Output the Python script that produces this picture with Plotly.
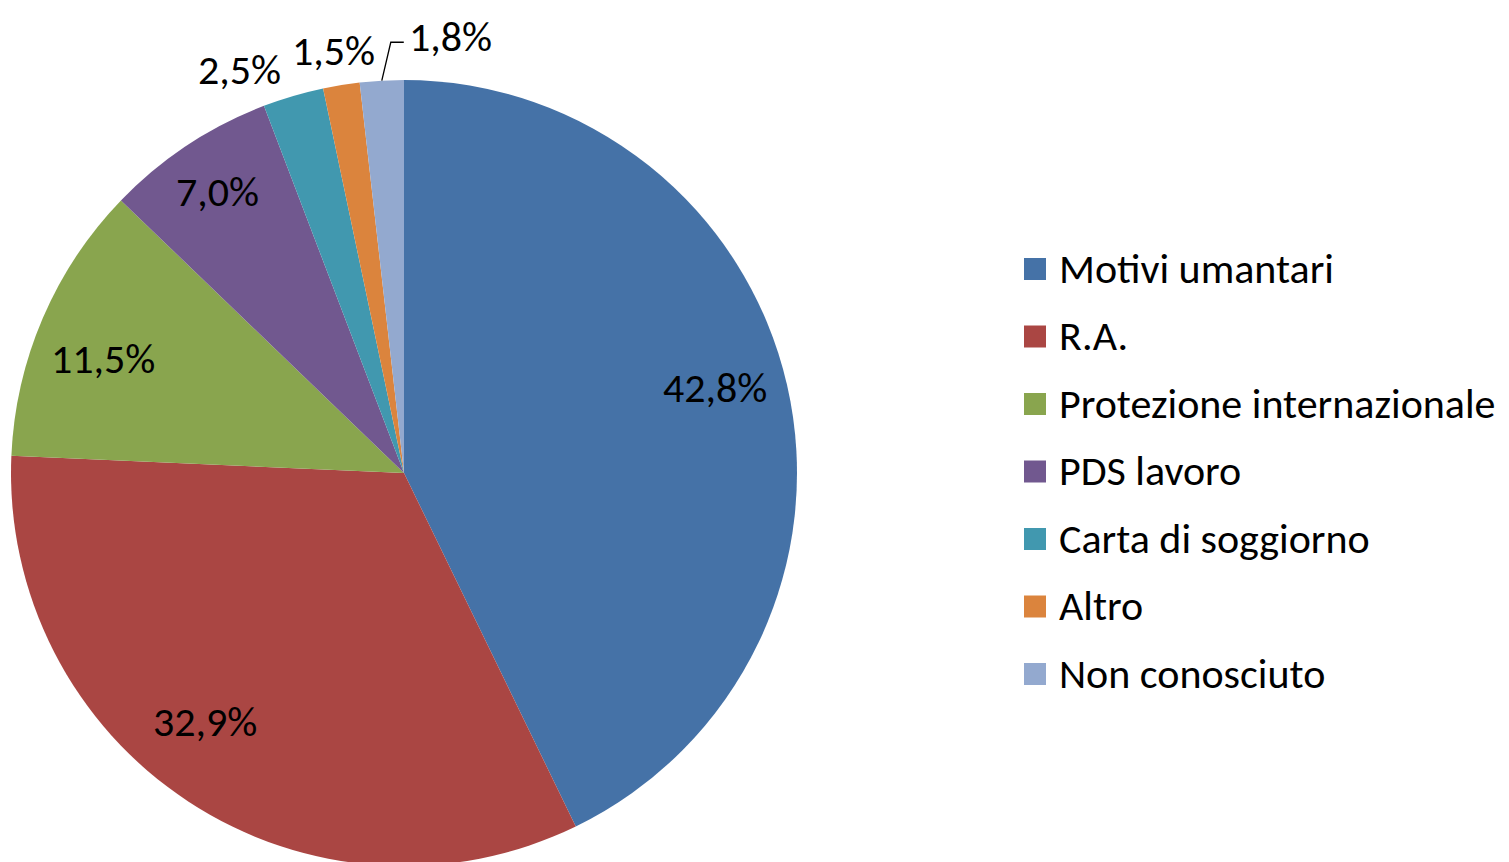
import math
import plotly.graph_objects as go

categories = ["Motivi umantari", "R.A.", "Protezione internazionale", "PDS lavoro",
              "Carta di soggiorno", "Altro", "Non conosciuto"]
values = [42.8, 32.9, 11.5, 7.0, 2.5, 1.5, 1.8]
colors = ["#4572A7", "#AA4643", "#89A54E", "#71588F", "#4198AF", "#DB843D", "#93A9CF"]

# label placement style (radius factor, angular offset in degrees) per slice
label_rfac = [0.82, 0.81, 0.82, 0.86, 1.11, 1.09, None]
label_dang = [-2.5, 5.5, -2.5, 0.0, -5.8, -0.3, None]

FONT = "Calibri, Carlito, Lato, sans-serif"
FS = 42
W, H = 1509, 862
OFF = 8  # page body margin of the html page

# pie geometry in page pixels
CX, CY, R = 404, 473, 393

def px(x, y):
    return (x - OFF) / W, 1 - (y - OFF) / H

dx0, dy0 = px(CX - R, CY + R)
dx1, dy1 = px(CX + R, CY - R)

fig = go.Figure(go.Pie(
    labels=categories,
    values=values,
    sort=False,
    direction="clockwise",
    rotation=0,
    marker=dict(colors=colors, line=dict(width=0)),
    textinfo="none",
    domain=dict(x=[dx0, dx1], y=[dy0, dy1]),
    showlegend=False,
    hoverinfo="label+percent",
))

annotations = []
shapes = []
total = sum(values)
cum = 0.0
for i, v in enumerate(values):
    mid = (cum + v / 2) / total * 360.0
    cum += v
    txt = f"{v:.1f}%".replace(".", ",")
    if label_rfac[i] is not None:
        a = math.radians(mid + label_dang[i])
        x = CX + label_rfac[i] * R * math.sin(a)
        y = CY - label_rfac[i] * R * math.cos(a)
        xx, yy = px(x, y)
        annotations.append(dict(x=xx, y=yy, xref="paper", yref="paper", text=txt,
                                showarrow=False, xanchor="center", yanchor="middle",
                                font=dict(family=FONT, size=FS, color="black")))
    else:
        a = math.radians(mid)
        x0 = CX + R * math.sin(a)
        y0 = CY - R * math.cos(a)
        x1 = x0 + 9
        y1 = CY - 1.096 * R
        x2 = x1 + 13
        p0, p1, p2 = px(x0, y0), px(x1, y1), px(x2, y1)
        shapes.append(dict(type="path", xref="paper", yref="paper",
                           path=f"M {p0[0]},{p0[1]} L {p1[0]},{p1[1]} L {p2[0]},{p2[1]}",
                           line=dict(color="black", width=1.3)))
        lx, ly = px(x2 + 3, y1 - 6)
        annotations.append(dict(x=lx, y=ly, xref="paper", yref="paper", text=txt,
                                showarrow=False, xanchor="left", yanchor="middle",
                                font=dict(family=FONT, size=FS, color="black")))

# legend (drawn as colour boxes + text)
LEG_X, LEG_Y0, LEG_DY, SQ = 1024, 269, 67.5, 22
for i, (c, name) in enumerate(zip(colors, categories)):
    yc = LEG_Y0 + i * LEG_DY
    bx0, by0 = px(LEG_X, yc - SQ / 2)
    bx1, by1 = px(LEG_X + SQ, yc + SQ / 2)
    shapes.append(dict(type="rect", xref="paper", yref="paper",
                       x0=bx0, x1=bx1, y0=by1, y1=by0,
                       fillcolor=c, line=dict(width=0)))
    tx, ty = px(LEG_X + 33, yc - 1)
    annotations.append(dict(x=tx, y=ty, xref="paper", yref="paper", text=name,
                            showarrow=False, xanchor="left", yanchor="middle",
                            font=dict(family=FONT, size=FS, color="black")))

fig.update_layout(
    width=W, height=H,
    margin=dict(l=0, r=0, t=0, b=0),
    paper_bgcolor="white",
    font=dict(family=FONT, size=FS, color="black"),
    annotations=annotations,
    shapes=shapes,
)

fig.write_html("out.html")
